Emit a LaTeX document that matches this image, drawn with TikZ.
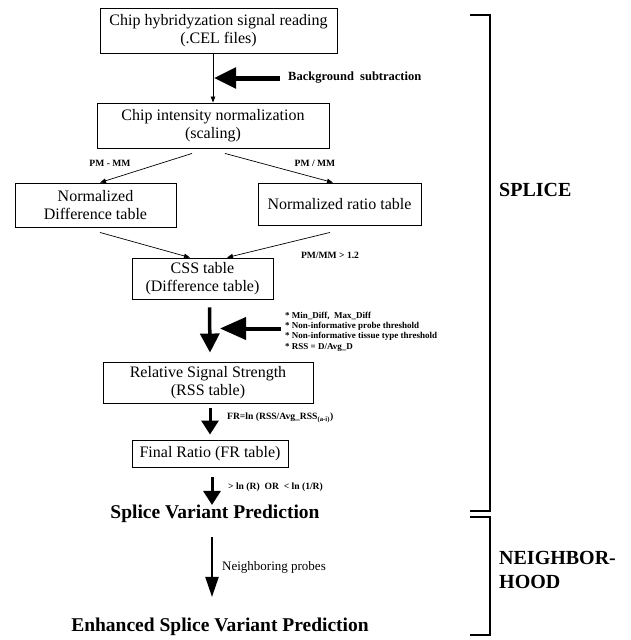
\documentclass[tikz,border=0pt]{standalone}
\usepackage{fontspec}
\setmainfont{Liberation Serif}
\usetikzlibrary{arrows.meta}

\begin{document}
\begin{tikzpicture}[x=1pt,y=-1pt,
  tbox/.style={draw,line width=0.9pt,align=center,inner sep=0pt,
    font=\fontsize{16}{18.5}\selectfont},
  lab/.style={inner sep=0pt,font=\bfseries\fontsize{9.6}{10.4}\selectfont},
  bigtxt/.style={inner sep=0pt,font=\bfseries\fontsize{19.5}{22}\selectfont},
  thinarrow/.style={line width=0.7pt,-{Triangle[length=6pt,width=4.5pt]}},
  fatarrow/.style={line width=3.5pt,-{Triangle[length=19pt,width=19pt]}},
  midarrow/.style={line width=3pt,-{Triangle[length=14pt,width=17pt]}}]
  \useasboundingbox (0,0) rectangle (631,640);

  % boxes of the flow
  \node[tbox,minimum width=237pt,minimum height=45pt] (read) at (218.5,30.5)
    {Chip hybridyzation signal reading\\(.CEL files)};
  \node[tbox,minimum width=232pt,minimum height=45pt] (norm) at (213,125.5)
    {Chip intensity normalization\\(scaling)};
  \node[tbox,minimum width=161pt,minimum height=44pt] (diff) at (95.5,205)
    {Normalized\\Difference table};
  \node[tbox,minimum width=163pt,minimum height=42pt] (ratio) at (339.5,204)
    {Normalized ratio table};
  \node[tbox,minimum width=141pt,minimum height=41pt] (css) at (202.5,278.5)
    {CSS table\\(Difference table)};
  \node[tbox,minimum width=210pt,minimum height=41pt] (rss) at (208,382.5)
    {Relative Signal Strength\\(RSS table)};
  \node[tbox,minimum width=156pt,minimum height=27pt] (fr) at (210,453.5)
    {Final Ratio (FR table)};
  \node[bigtxt] (svp) at (215,514) {Splice Variant Prediction};
  \node[bigtxt] (esvp) at (220,627) {Enhanced Splice Variant Prediction};

  % labels
  \node[lab,anchor=west,font=\bfseries\fontsize{12.5}{14}\selectfont] (bg) at (288,78)
    {Background\ \ subtraction};
  \node[lab] (pmd) at (110,163) {PM - MM};
  \node[lab] (pmr) at (315,163) {PM / MM};
  \node[lab] (gt) at (330,255) {PM/MM > 1.2};
  \node[lab,anchor=west,align=left,font=\bfseries\fontsize{9}{10.4}\selectfont] (thr) at (285,331.5)
    {* Min\_Diff,\ \ Max\_Diff\\* Non-informative probe threshold\\
     * Non-informative tissue type threshold\\* RSS = D/Avg\_D};
  \node[lab,anchor=west] (frl) at (227,418) {FR=ln (RSS/Avg\_RSS\textsubscript{(a-i)})};
  \node[lab,anchor=west] (cut) at (228,487) {> ln (R)\ \ OR\ \ < ln (1/R)};
  \node[anchor=west,inner sep=0pt,font=\fontsize{13}{15}\selectfont] (nb) at (222,567)
    {Neighboring probes};

  % connectors
  \coordinate (bgtip) at (214,78);
  \coordinate (thtip) at (220,328.5);
  \draw[thinarrow] (read.south -| norm) -- (norm.north);
  \draw[line width=5pt,-{Triangle[length=22pt,width=20pt]}] ([xshift=-8pt]bg.west) -- (bgtip);
  \draw[thinarrow] ([xshift=-21pt,yshift=-5pt]norm.south) -- ([xshift=4.5pt]diff.north);
  \draw[thinarrow] ([xshift=12pt,yshift=-5pt]norm.south) -- ([xshift=-6.5pt]ratio.north);
  \draw[thinarrow] ([xshift=4.5pt,yshift=-5pt]diff.south) -- ([xshift=-12.5pt]css.north);
  \draw[thinarrow] ([xshift=-9.5pt,yshift=-7pt]ratio.south) -- ([xshift=24.5pt]css.north);
  \draw[fatarrow] ([xshift=7pt,yshift=-8pt]css.south) -- ([xshift=2pt,yshift=9pt]rss.north);
  \draw[line width=4pt,-{Triangle[length=26pt,width=22pt]}] ([xshift=-4pt,yshift=3pt]thr.west) -- (thtip);
  \draw[midarrow] ([xshift=2pt,yshift=-5pt]rss.south) -- ([yshift=5pt]fr.north);
  \draw[midarrow] ([xshift=2pt,yshift=-10pt]fr.south) -- ([xshift=-3pt]svp.north);
  \draw[line width=2.2pt,-{Triangle[length=20pt,width=13pt]}] ([xshift=-3pt,yshift=-14pt]svp.south) -- ([xshift=-8pt,yshift=21pt]esvp.north);

  % brackets
  \draw[line width=1.8pt] (470,15) -- (490,15) -- (490,511) -- (470,511);
  \draw[line width=1.8pt] (470,517) -- (490,517) -- (490,635) -- (470,635);
  \node[anchor=west,inner sep=0pt,font=\bfseries\fontsize{20}{24}\selectfont] (splice) at (499,190) {SPLICE};
  \node[anchor=west,align=left,inner sep=0pt,font=\bfseries\fontsize{20}{24}\selectfont] (hood) at (499,570)
    {NEIGHBOR-\\HOOD};
\end{tikzpicture}
\end{document}
